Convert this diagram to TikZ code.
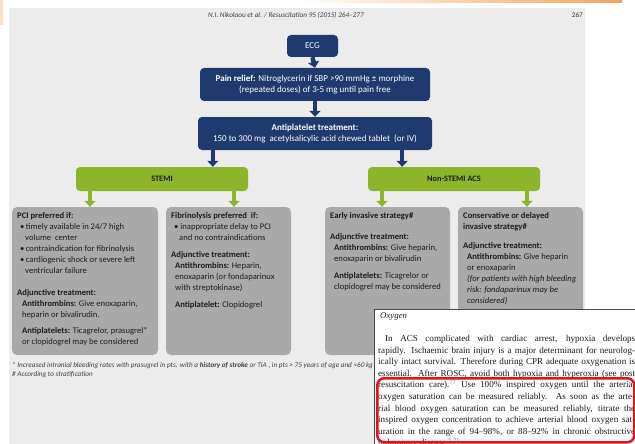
\documentclass[tikz,border=0pt]{standalone}
\usepackage{fontspec}
\setmainfont{Carlito}
\newfontfamily\oxserif{Liberation Serif}
\usetikzlibrary{arrows.meta}

\definecolor{navy}{HTML}{1F3A6F}
\definecolor{lime}{HTML}{8DB52C}
\definecolor{boxgray}{HTML}{A9A9A9}
\definecolor{panel}{HTML}{ECECEC}
\definecolor{ink}{HTML}{1C1C1C}
\definecolor{refblue}{HTML}{3A7CC2}
\definecolor{markred}{HTML}{E3121B}
\definecolor{peach}{HTML}{F2A35E}

\begin{document}
\begin{tikzpicture}[x=1pt,y=-1pt,
  navybox/.style={fill=navy, rounded corners=4pt, text=white, align=center,
    inner sep=0pt, font=\fontsize{9}{10.5}\selectfont},
  greenbox/.style={fill=lime, rounded corners=4pt, text=ink, inner sep=0pt,
    font=\bfseries\fontsize{8.3}{10}\selectfont},
  graybox/.style={fill=boxgray, rounded corners=5pt, inner sep=0pt,
    minimum height=148pt},
  boxtext/.style={anchor=north west, inner sep=0pt, text=ink, align=left,
    font=\fontsize{8.6}{11}\selectfont},
  navyarrow/.style={draw=navy, line width=4.5pt, -{Triangle[width=11pt,length=6pt]}},
  greenarrow/.style={draw=lime, line width=4.5pt, -{Triangle[width=11pt,length=6pt]}},
  note/.style={anchor=north west, inner sep=0pt, text=ink!85, align=left,
    font=\itshape\fontsize{7.2}{9}\selectfont}
]
\useasboundingbox (0,0) rectangle (635,444);

% page background and panel
\fill[white] (0,0) rectangle (635,444);
\shade[left color=white, right color=peach] (300,0) rectangle (622,3);
\fill[peach!35] (0,0) rectangle (3,25);
\fill[panel] (9,8) rectangle (585,444);

% running head
\node[inner sep=0pt, text=ink!85, font=\itshape\fontsize{7.2}{8}\selectfont] (hdr) at (286,15)
  {N.I. Nikolaou et al. / Resuscitation 95 (2015) 264–277};
\node[anchor=east, inner sep=0pt, text=ink!85, font=\fontsize{7.2}{8}\selectfont] (pageno) at (583,15) {267};

% main pathway
\node[navybox, minimum width=51pt, minimum height=22pt] (ecg) at (312.5,46) {ECG};
\node[navybox, minimum width=230pt, minimum height=33pt] (pain) at (315,84.5)
  {\textbf{Pain relief:} Nitroglycerin if SBP >90 mmHg ± morphine\\(repeated doses) of 3-5 mg until pain free};
\node[navybox, minimum width=234pt, minimum height=33pt] (anti) at (315,133.5)
  {\textbf{Antiplatelet treatment:}\\150 to 300 mg\ \ acetylsalicylic acid chewed tablet\ \ (or IV)};

\node[greenbox, minimum width=172pt, minimum height=24pt] (stemi) at (162,179) {STEMI};
\node[greenbox, minimum width=172pt, minimum height=24pt] (nstemi) at (454,179) {Non-STEMI ACS};

\node[graybox, minimum width=146pt] (pci) at (85,281) {};
\node[graybox, minimum width=125pt] (fib) at (228.5,281) {};
\node[graybox, minimum width=125pt] (early) at (387.5,281) {};
\node[graybox, minimum width=125pt] (cons) at (520.5,281) {};

% connectors
\draw[navyarrow] (ecg.south) -- (pain.north);
\draw[navyarrow] (pain.south) -- (anti.north);
\coordinate (a1) at ([xshift=15pt]anti.south west);
\coordinate (a2) at ([xshift=-30pt]anti.south east);
\draw[navyarrow] (a1) -- (a1 |- stemi.north);
\draw[navyarrow] (a2) -- (a2 |- nstemi.north);

\coordinate (s1) at (90,0);
\coordinate (s2) at (234,0);
\coordinate (s3) at (382,0);
\coordinate (s4) at (527,0);
\draw[greenarrow] (stemi.south -| s1) -- (pci.north -| s1);
\draw[greenarrow] (stemi.south -| s2) -- (fib.north -| s2);
\draw[greenarrow] (nstemi.south -| s3) -- (early.north -| s3);
\draw[greenarrow] (nstemi.south -| s4) -- (cons.north -| s4);

% box contents
\node[boxtext] (pcitext) at (17,212) {%
\textbf{PCI preferred if:}\\
\hspace*{3pt}\textbullet\,timely available in 24/7 high\\
\hspace*{8pt}volume\ \ center\\
\hspace*{3pt}\textbullet\,contraindication for fibrinolysis\\
\hspace*{3pt}\textbullet\,cardiogenic shock or severe left\\
\hspace*{8pt}ventricular failure\\[11pt]
\textbf{Adjunctive treatment:}\\
\hspace*{5pt}\textbf{Antithrombins:} Give enoxaparin,\\
\hspace*{5pt}heparin or bivalirudin.\\[5pt]
\hspace*{5pt}\textbf{Antiplatelets:} Ticagrelor, prasugrel*\\
\hspace*{5pt}or clopidogrel may be considered};

\node[boxtext] (fibtext) at (171,212) {%
\textbf{Fibrinolysis preferred\ \ if:}\\
\hspace*{3pt}\textbullet\ inappropriate delay to PCI\\
\hspace*{8pt}and no contraindications\\[6pt]
\textbf{Adjunctive treatment:}\\
\hspace*{4pt}\textbf{Antithrombins:} Heparin,\\
\hspace*{4pt}enoxaparin (or fondaparinux\\
\hspace*{4pt}with streptokinase)\\[6pt]
\hspace*{4pt}\textbf{Antiplatelet:} Clopidogrel};

\node[boxtext] (earlytext) at (330,212) {%
\textbf{Early invasive strategy\#}\\[10pt]
\textbf{Adjunctive treatment:}\\
\hspace*{4pt}\textbf{Antithrombins:} Give heparin,\\
\hspace*{4pt}enoxaparin or bivalirudin\\[6pt]
\hspace*{4pt}\textbf{Antiplatelets:} Ticagrelor or\\
\hspace*{4pt}clopidogrel may be considered};

\node[boxtext] (constext) at (463,212) {%
\textbf{Conservative or delayed}\\
\textbf{invasive strategy\#}\\[8pt]
\textbf{Adjunctive treatment:}\\
\hspace*{4pt}\textbf{Antithrombins:} Give heparin\\
\hspace*{4pt}or enoxaparin\\
\hspace*{4pt}\textit{(for patients with high bleeding}\\
\hspace*{4pt}\textit{risk: fondaparinux may be}\\
\hspace*{4pt}\textit{considered)}};

% footnotes
\node[note] (fnote) at (12,362) {%
* Increased intranial bleeding rates with prasugrel in pts. with a \textbf{history of stroke} or TIA , in pts > 75 years of age and <60 kg body weight\\
\# According to stratification};

% overlaid text excerpt
\node[draw=ink!80, line width=0.8pt, fill=white, anchor=north west, inner sep=0pt,
  minimum width=275pt, minimum height=145pt] (oxbox) at (374,309) {};
\node[anchor=north west, inner sep=0pt, text=ink,
  font=\oxserif\itshape\fontsize{8.8}{10}\selectfont] (oxtitle) at (380,312) {Oxygen};
\node[anchor=north west, inner sep=0pt, text=ink] (oxtext) at (378,335) {%
\begin{minipage}{257pt}\oxserif\fontsize{9.1}{11.6}\selectfont
\noindent\makebox[257pt][s]{\hspace*{7pt}In ACS complicated with cardiac arrest, hypoxia develops}\\
\makebox[257pt][s]{rapidly. Ischaemic brain injury is a major determinant for neurolog-}\\
\makebox[257pt][s]{ically intact survival. Therefore during CPR adequate oxygenation is}\\
\makebox[257pt][s]{essential. After ROSC, avoid both hypoxia and hyperoxia (see post}\\
\makebox[257pt][s]{resuscitation care).\textsuperscript{\color{refblue}77} Use 100\% inspired oxygen until the arterial}\\
\makebox[257pt][s]{oxygen saturation can be measured reliably. As soon as the arte-}\\
\makebox[257pt][s]{rial blood oxygen saturation can be measured reliably, titrate the}\\
\makebox[257pt][s]{inspired oxygen concentration to achieve arterial blood oxygen sat-}\\
\makebox[257pt][s]{uration in the range of 94–98\%, or 88–92\% in chronic obstructive}\\
pulmonary disease.\textsuperscript{\color{refblue}5,71}
\end{minipage}};

% highlight frame
\node[draw=markred, line width=2.5pt, rounded corners=7pt, anchor=north west, inner sep=0pt,
  minimum width=257pt, minimum height=64pt] (mark) at (376,377) {};

\end{tikzpicture}
\end{document}
